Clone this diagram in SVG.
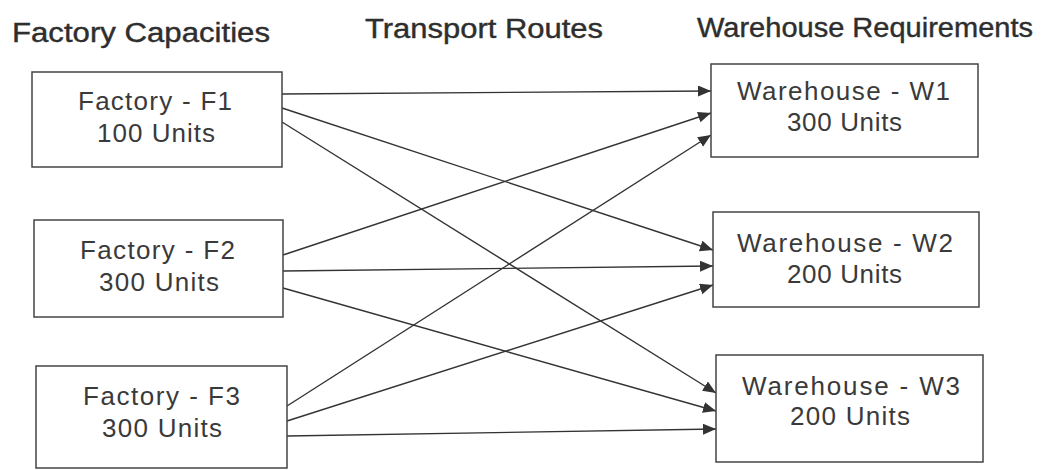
<svg xmlns="http://www.w3.org/2000/svg" width="1046" height="470" viewBox="0 0 1046 470">
<style>
.hdr{font-family:"Liberation Sans",Arial,sans-serif;font-size:27px;fill:#2e2e2e;stroke:#2e2e2e;stroke-width:0.4;}
.lbl{font-family:"Liberation Sans",Arial,sans-serif;font-size:26px;fill:#3a3a3a;}
.box{fill:#fff;stroke:#444;stroke-width:1.5;}
.edge{stroke:#333;stroke-width:1.4;fill:none;marker-end:url(#ah);}
</style>
<defs>
<marker id="ah" markerUnits="userSpaceOnUse" markerWidth="14" markerHeight="12" refX="13" refY="5.5" orient="auto">
<path d="M0,0 L13,5.5 L0,11 z" fill="#333"/>
</marker>
</defs>
<rect width="1046" height="470" fill="#fff"/>
<g id="headers">
<text class="hdr" x="12" y="42" textLength="258" lengthAdjust="spacingAndGlyphs">Factory Capacities</text>
<text class="hdr" x="365" y="38" textLength="238" lengthAdjust="spacingAndGlyphs">Transport Routes</text>
<text class="hdr" x="697" y="37" textLength="336" lengthAdjust="spacingAndGlyphs">Warehouse Requirements</text>
</g>
<g id="connectors">
<line class="edge" x1="282" y1="94" x2="711" y2="91"/>
<line class="edge" x1="282" y1="108" x2="713" y2="250"/>
<line class="edge" x1="282" y1="122" x2="716" y2="393"/>
<line class="edge" x1="283" y1="255" x2="711" y2="113"/>
<line class="edge" x1="283" y1="271" x2="713" y2="266"/>
<line class="edge" x1="283" y1="288" x2="716" y2="411"/>
<line class="edge" x1="287" y1="406" x2="711" y2="135"/>
<line class="edge" x1="287" y1="421" x2="713" y2="285"/>
<line class="edge" x1="287" y1="436" x2="716" y2="429"/>
</g>
<g id="F1">
<rect class="box" x="32" y="72" width="250" height="95"/>
<text class="lbl" x="78" y="110" textLength="154" lengthAdjust="spacing">Factory - F1</text>
<text class="lbl" x="97" y="142" textLength="118" lengthAdjust="spacing">100 Units</text>
</g>
<g id="F2">
<rect class="box" x="34" y="220" width="249" height="97"/>
<text class="lbl" x="80" y="259" textLength="155" lengthAdjust="spacing">Factory - F2</text>
<text class="lbl" x="99" y="291" textLength="120" lengthAdjust="spacing">300 Units</text>
</g>
<g id="F3">
<rect class="box" x="36" y="366" width="251" height="102"/>
<text class="lbl" x="83" y="405" textLength="157" lengthAdjust="spacing">Factory - F3</text>
<text class="lbl" x="102" y="437" textLength="120" lengthAdjust="spacing">300 Units</text>
</g>
<g id="W1">
<rect class="box" x="711" y="64" width="267" height="93"/>
<text class="lbl" x="737" y="100" textLength="213" lengthAdjust="spacing">Warehouse - W1</text>
<text class="lbl" x="787" y="131" textLength="115" lengthAdjust="spacing">300 Units</text>
</g>
<g id="W2">
<rect class="box" x="713" y="212" width="266" height="95"/>
<text class="lbl" x="737" y="252" textLength="216" lengthAdjust="spacing">Warehouse - W2</text>
<text class="lbl" x="787" y="283" textLength="115" lengthAdjust="spacing">200 Units</text>
</g>
<g id="W3">
<rect class="box" x="716" y="355" width="267" height="107"/>
<text class="lbl" x="742" y="395" textLength="218" lengthAdjust="spacing">Warehouse - W3</text>
<text class="lbl" x="790" y="425" textLength="120" lengthAdjust="spacing">200 Units</text>
</g>
</svg>
